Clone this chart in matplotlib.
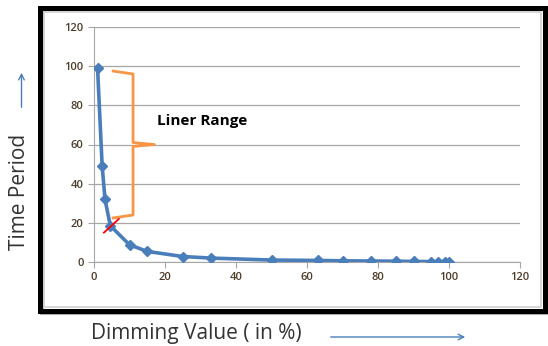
import matplotlib.pyplot as plt
from matplotlib.patches import Rectangle

# dimming value (%) vs time period
dimming = [1, 2.3, 3.1, 4.6, 10, 15, 25, 33, 50, 63, 70, 78, 85, 90, 95, 97, 99, 100]
period = [99, 49, 32, 18.5, 8.8, 5.4, 2.8, 2.0, 1.0, 0.8, 0.6, 0.5, 0.4, 0.3, 0.2, 0.2, 0.1, 0.1]

xticks = [0, 20, 40, 60, 80, 100, 120]
yticks = [0, 20, 40, 60, 80, 100, 120]

plt.rcParams['font.family'] = ['Open Sans', 'DejaVu Sans']

fig = plt.figure(figsize=(5.48, 3.46), dpi=100)

# black chart frame with light inner edge
fig.patches.append(Rectangle((42 / 548, 1 - 313 / 346), 505 / 548, 304 / 346,
                             transform=fig.transFigure, fill=False,
                             edgecolor='#b0b0b0', linewidth=3, zorder=0))
fig.patches.append(Rectangle((40 / 548, 1 - 311 / 346), 505 / 548, 303 / 346,
                             transform=fig.transFigure, fill=False,
                             edgecolor='black', linewidth=3.6, zorder=0))
fig.patches.append(Rectangle((44 / 548, 1 - 307 / 346), 497 / 548, 295 / 346,
                             transform=fig.transFigure, fill=False,
                             edgecolor='#d0d0d0', linewidth=1.2, zorder=0))

ax = fig.add_axes([94 / 548, 1 - 262 / 346, 426 / 548, 235 / 346])
ax.plot(dimming, period, color='#4a7ebb', linewidth=2.6, marker='D',
        markersize=5, zorder=3)

ax.set_xlim(0, 120)
ax.set_ylim(0, 120)
ax.set_xticks(xticks)
ax.set_yticks(yticks)
ax.grid(axis='y', color='#a6a6a6', linewidth=0.9)
for s in ['top', 'right']:
    ax.spines[s].set_visible(False)
for s in ['left', 'bottom']:
    ax.spines[s].set_color('#a6a6a6')
ax.tick_params(colors='#a6a6a6', labelcolor='#4d3b2a', labelsize=8, length=4)
for lb in ax.get_xticklabels() + ax.get_yticklabels():
    lb.set_fontweight('semibold')

# orange bracket
bx = [5.4, 11, 11, 17, 11, 11, 5.4]
by = [97.5, 96, 61, 60, 59, 24, 22.5]
ax.plot(bx, by, color='#f79646', linewidth=2, zorder=2, clip_on=False)
ax.plot([2.8, 7], [15, 22], color='red', linewidth=1.3, zorder=4)
ax.text(17.8, 72, 'Liner Range', fontsize=11, fontweight='bold', va='center')

fig.text(20 / 548, 1 - 192 / 346, 'Time Period', rotation=90, fontsize=15,
         ha='center', va='center', color='#333333')
fig.text(91 / 548, 1 - 333 / 346, 'Dimming Value ( in %)', fontsize=15,
         ha='left', va='center', color='#333333')
arrow = dict(arrowstyle='->', color='#4a7ebb', linewidth=1)
ax.annotate('', xy=(468 / 548, 1 - 337 / 346), xytext=(328 / 548, 1 - 337 / 346),
            xycoords='figure fraction', arrowprops=arrow, annotation_clip=False)
ax.annotate('', xy=(21.5 / 548, 1 - 70 / 346), xytext=(21.5 / 548, 1 - 110 / 346),
            xycoords='figure fraction', arrowprops=arrow, annotation_clip=False)

plt.savefig('out.png', dpi=100)
